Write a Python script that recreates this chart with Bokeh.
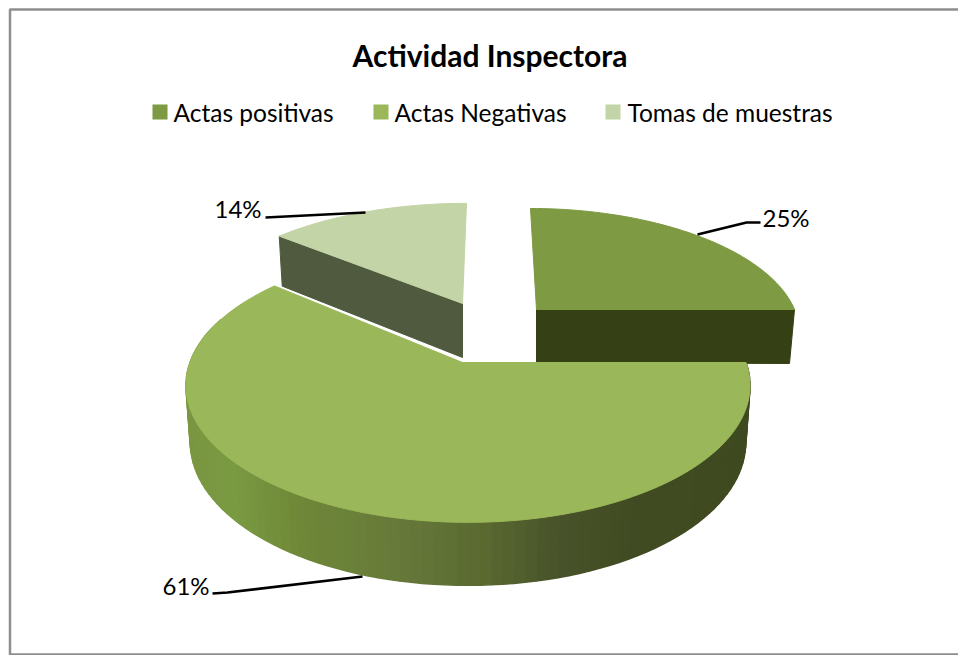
import numpy as np
from bokeh.plotting import figure
from bokeh.embed import file_html
from bokeh.resources import INLINE
from bokeh.core.properties import value

# ---- chart data ----
title = "Actividad Inspectora"
categories = ["Actas positivas", "Actas Negativas", "Tomas de muestras"]
shares = [25, 61, 14]
labels = ["25%", "61%", "14%"]

# ---- styles / layout ----
top_colors = ["#7E9A43", "#9AB859", "#C3D4A6"]
wall_colors = ["#364015", None, "#4F5A3E"]
FONT = value("Lato")
K = 0.168


def project(theta, apex, a, b, skew=0.0, arc_dx=0.0):
    u, v = np.cos(theta), np.sin(theta)
    w = 1 - K * v
    return apex[0] + arc_dx + skew * v + a * u / w, apex[1] + b * v / w


# slice angles, clockwise from east, derived from the shares
fr = np.array(shares) / sum(shares) * 2 * np.pi
th0_big, th1_big = 0.0, fr[1]
th0_s1, th1_s1 = -fr[0], 0.0
th0_s3, th1_s3 = fr[1], fr[1] + fr[2]

p = figure(width=958, height=655, x_range=(0, 958), y_range=(655, 0),
           toolbar_location=None, output_backend="svg", min_border=0,
           outline_line_color=None, background_fill_color="white")
p.xaxis.visible = False
p.yaxis.visible = False
p.grid.visible = False

# frame (open on the right, as in the reference)
p.line([958, 9.5, 9.5, 958], [9, 9, 654, 654], line_color="#8E8E8E", line_width=2.5)

# slice 1 (exploded, back right)
ap1 = (536, 309)
t = np.linspace(th0_s1, th1_s1, 60)
x, y = project(t, ap1, 258, 118, skew=6)
dep1 = 54
p.patch([ap1[0], x[-1], x[-1] - 5, ap1[0]], [ap1[1], y[-1], y[-1] + dep1, ap1[1] + dep1 - 1],
        fill_color=wall_colors[0], line_color=wall_colors[0])
p.patch([ap1[0], *x], [ap1[1], *y], fill_color=top_colors[0], line_color=top_colors[0])

# slice 3 (exploded, back left)
ap3 = (462, 303)
t = np.linspace(th0_s3, th1_s3, 40)
x, y = project(t, ap3, 267, 117, skew=-4)
p.patch([x[0], ap3[0], ap3[0], x[0] + 3], [y[0], ap3[1], ap3[1] + 54, y[0] + 50],
        fill_color=wall_colors[2], line_color=wall_colors[2])
p.patch([ap3[0], *x], [ap3[1], *y], fill_color=top_colors[2], line_color=top_colors[2])

# big slice: outer wall with a shaded band
ap2 = (462, 362)
A2, B2, DX2 = 278, 133, 5.5
edges = np.radians(np.arange(0, 202, 2.0))
tx, ty = project(edges, ap2, A2, B2, arc_dx=DX2)
bx, by = project(edges, ap2, A2 * 0.985, B2, arc_dx=DX2)
by = by + 55 + 8 * np.sin(edges)
stop_x = [745, 640, 560, 480, 400, 300, 230, 190]
stop_rgb = np.array([(0x3F, 0x4A, 0x20), (0x41, 0x4B, 0x22), (0x47, 0x52, 0x2A), (0x5A, 0x6A, 0x30),
                     (0x66, 0x79, 0x3A), (0x6F, 0x87, 0x38), (0x7A, 0x9A, 0x42), (0x7A, 0x96, 0x41)], float)
xs, ys, cs = [], [], []
for i in range(len(edges) - 1):
    xm = (tx[i] + tx[i + 1]) / 2
    rgb = [np.interp(-xm, -np.array(stop_x), stop_rgb[:, c]) for c in range(3)]
    xs.append([tx[i], tx[i + 1], bx[i + 1], bx[i]])
    ys.append([ty[i], ty[i + 1], by[i + 1], by[i]])
    cs.append("#%02x%02x%02x" % tuple(int(round(c)) for c in rgb))
p.patches(xs, ys, fill_color=cs, line_color=cs, line_width=1.5)

# big slice: top face
t = np.linspace(th0_big, th1_big, 160)
x, y = project(t, ap2, A2, B2, arc_dx=DX2)
p.patch([ap2[0], *x], [ap2[1], *y], fill_color=top_colors[1], line_color=top_colors[1])

# leader lines and percent labels
p.line([697, 746, 760], [234, 222, 222], line_color="black", line_width=2.6)
p.line([212, 227, 362], [593, 592, 576], line_color="black", line_width=2.6)
p.line([265, 365], [217, 212], line_color="black", line_width=2.6)
p.text([762, 162, 214], [217, 585, 208], text=labels, text_font=FONT, text_font_size="24px",
       text_align="left", text_baseline="middle", text_color="black")

# title
p.text([489.5], [54], text=[title], text_font=FONT, text_font_size="30px", text_font_style="bold",
       text_align="center", text_baseline="middle", text_color="black")

# legend
sq_x = [152, 373, 605]
p.quad(left=sq_x, right=[v + 15 for v in sq_x], top=[104] * 3, bottom=[119] * 3,
       fill_color=top_colors, line_color=None)
p.text([173, 394, 627], [112] * 3, text=categories, text_font=FONT, text_font_size="24.5px",
       text_align="left", text_baseline="middle", text_color="black")

open("out.html", "w").write(file_html(p, INLINE))
